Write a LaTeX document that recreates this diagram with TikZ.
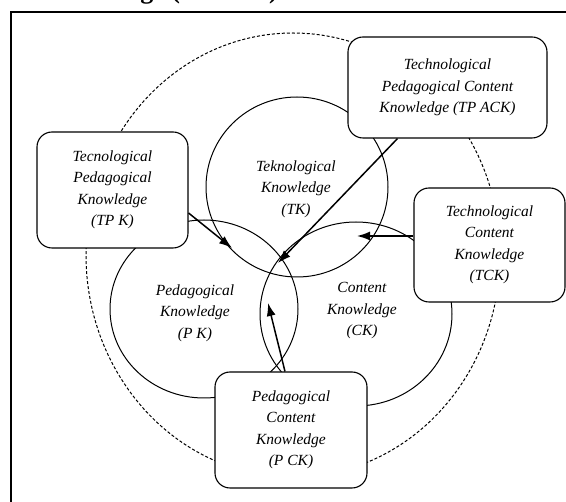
\documentclass[tikz,border=0pt]{standalone}
\usepackage{fontspec}
\setmainfont{Liberation Serif}
\usetikzlibrary{arrows.meta}
\usetikzlibrary{positioning}

\begin{document}
\begin{tikzpicture}[x=1pt,y=-1pt,>={Latex[length=13pt,width=9pt]},
    knowbox/.style={draw,line width=1.1pt,rounded corners=15pt,fill=white,
      inner sep=0pt,align=center,font=\itshape\fontsize{15.5}{21.5}\selectfont},
    knowtext/.style={align=center,inner sep=0pt,font=\itshape\fontsize{15.5}{21.5}\selectfont}]
          \useasboundingbox (0,0) rectangle (566,502);
          \draw[line width=1.3pt] (11,620) -- (11,12) -- (620,12);
          \node[anchor=base east,inner sep=0pt,font=\bfseries\fontsize{26}{30}\selectfont]
                     (title) at (278,-1) {Knowledge (TPACK)};

          % outer dashed ring and the three circles
          \draw[dash pattern=on 3pt off 2pt,line width=1pt] (293,255) ellipse [x radius=207,y radius=222];
          \draw[line width=1pt] (297,187) ellipse [x radius=91,y radius=90];
          \draw[line width=1pt] (204,309) ellipse [x radius=94,y radius=89];
          \draw[line width=1pt] (356,314) ellipse [x radius=96,y radius=92];

          \node[knowtext] (tk) at (296,189) {Teknological\\Knowledge\\(TK)};
          \node[knowtext] (pk) at (195,313) {Pedagogical\\Knowledge\\(P K)};
          \node[knowtext] (ck) at (362,311) {Content\\Knowledge\\(CK)};

          \node[knowbox,minimum width=199pt,minimum height=101pt] (tpack) at (447.5,87.5)
                     {Technological\\Pedagogical Content\\Knowledge (TP ACK)};
          \node[knowbox,minimum width=151pt,minimum height=116pt] (tpk) at (112.5,190)
                     {Tecnological\\Pedagogical\\Knowledge\\(TP K)};
          \node[knowbox,minimum width=151pt,minimum height=114pt] (tck) at (489.5,245)
                     {Technological\\Content\\Knowledge\\(TCK)};
          \node[knowbox,minimum width=152pt,minimum height=116pt] (pck) at (291,430)
                     {Pedagogical\\Content\\Knowledge\\(P CK)};

          \coordinate (pkin) at (232,248);
          \coordinate (tkin) at (278,263);
          \coordinate (ckin) at (357,236);
          \coordinate (pckin) at (268,303);

          \draw[->,line width=1.5pt] ([yshift=-23pt]tpk.east) -- (pkin);
          \draw[->,line width=1.5pt] ([xshift=-50pt]tpack.south) -- (tkin);
          \draw[->,line width=1.5pt] ([yshift=9pt]tck.west) -- (ckin);
          \draw[->,line width=1.5pt] ([xshift=-6pt]pck.north) -- (pckin);

        \end{tikzpicture}
\end{document}
